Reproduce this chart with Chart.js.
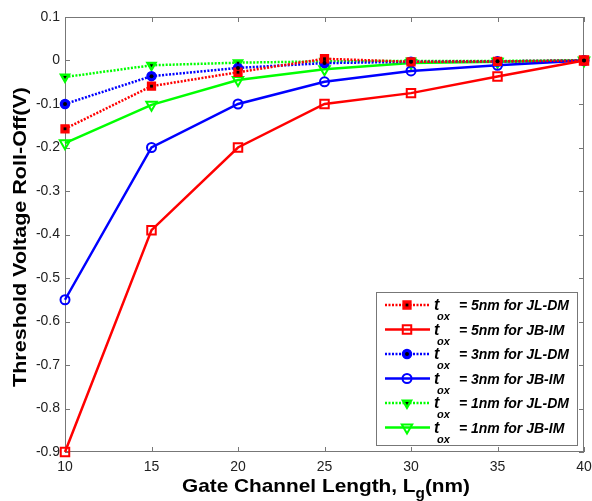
<!DOCTYPE html>
<html lang="en">
  <head>
    <meta charset="UTF-8" />
    <title>Threshold Voltage Roll-Off</title>
    <script src="https://cdn.jsdelivr.net/npm/chart.js"></script>
    <style>
      html, body { margin: 0; padding: 0; background: #fff; }
      #wrap { width: 592px; height: 501px; }
    </style>
  </head>
  <body>
    <div id="wrap"><canvas id="rolloff" width="592" height="501"></canvas></div>
    <script>
      // Gate channel length (nm)
      const gateLength = [10, 15, 20, 25, 30, 35, 40]

      // threshold voltage roll-off (V)
      const jlDm5 = [-0.157, -0.059, -0.027, 0.004, -0.003, -0.002, 0]
      const jbIm5 = [-0.9, -0.39, -0.2, -0.1, -0.075, -0.037, 0]
      const jlDm3 = [-0.1, -0.036, -0.017, -0.006, -0.003, -0.002, 0]
      const jbIm3 = [-0.55, -0.2, -0.1, -0.049, -0.024, -0.011, 0]
      const jlDm1 = [-0.038, -0.011, -0.005, -0.002, -0.001, -0.001, 0]
      const jbIm1 = [-0.19, -0.102, -0.045, -0.02, -0.006, -0.003, 0]

      const xTicks = [10, 15, 20, 25, 30, 35, 40]
      const yTicks = [0.1, 0, -0.1, -0.2, -0.3, -0.4, -0.5, -0.6, -0.7, -0.8, -0.9]

      const legendText = [
        " = 5nm for JL-DM",
        " = 5nm for JB-IM",
        " = 3nm for JL-DM",
        " = 3nm for JB-IM",
        " = 1nm for JL-DM",
        " = 1nm for JB-IM",
      ]

      const FONT = "Arial, 'Liberation Sans', Helvetica, sans-serif"
      const RED = "#ff0000"
      const BLUE = "#0000ff"
      const GREEN = "#00ff00"

      function toXY(vals) {
        return vals.map((v, i) => ({ x: gateLength[i], y: v }))
      }

      function series(label, vals, color, style, dotted) {
        const open = !dotted
        let radius
        if (style === "rect") radius = dotted ? 5.5 : 6
        else if (style === "circle") radius = 4.5
        else radius = dotted ? 5.5 : 6
        return {
          label: label,
          data: toXY(vals),
          borderColor: color,
          backgroundColor: open ? "rgba(0,0,0,0)" : color,
          borderWidth: 2.5,
          borderDash: dotted ? [2, 1.5] : [],
          pointStyle: style,
          pointRotation: style === "triangle" ? 180 : 0,
          pointRadius: radius,
          pointBorderWidth: open ? 2 : 1.5,
          pointBorderColor: color,
          pointBackgroundColor: open ? "rgba(0,0,0,0)" : color,
          tension: 0,
          clip: false,
          dotted: dotted,
        }
      }

      const datasets = [
        series("5nm JL-DM", jlDm5, RED, "rect", true),
        series("5nm JB-IM", jbIm5, RED, "rect", false),
        series("3nm JL-DM", jlDm3, BLUE, "circle", true),
        series("3nm JB-IM", jbIm3, BLUE, "circle", false),
        series("1nm JL-DM", jlDm1, GREEN, "triangle", true),
        series("1nm JB-IM", jbIm1, GREEN, "triangle", false),
      ]

      function blackCenter(ctx, ds, x, y) {
        Chart.helpers.drawPoint(
          ctx,
          { pointStyle: ds.pointStyle, rotation: ds.pointRotation, radius: 2, borderWidth: 0 },
          x,
          y
        )
      }

      // draws text pieces [text, size, dy] stretched to a given width, centred at (cx, base)
      function stretchedText(ctx, pieces, cx, base, width) {
        let total = 0
        pieces.forEach((p) => {
          ctx.font = "bold " + p[1] + "px " + FONT
          p.w = ctx.measureText(p[0]).width
          total += p.w
        })
        const k = width / total
        ctx.save()
        ctx.translate(cx - width / 2, base)
        ctx.scale(k, 1)
        let x = 0
        pieces.forEach((p) => {
          ctx.font = "bold " + p[1] + "px " + FONT
          ctx.fillText(p[0], x, p[2])
          x += p.w
        })
        ctx.restore()
      }

      // frame, inward ticks, axis titles, legend
      const decor = {
        id: "decor",
        beforeDatasetsDraw(chart) {
          const { ctx, chartArea: a, scales } = chart
          ctx.save()
          ctx.strokeStyle = "#777"
          ctx.lineWidth = 1
          ctx.strokeRect(Math.round(a.left) + 0.5, Math.round(a.top) + 0.5, a.right - a.left - 1, a.bottom - a.top - 1)
          ctx.beginPath()
          xTicks.forEach((v) => {
            const px = Math.round(scales.x.getPixelForValue(v)) + 0.5
            ctx.moveTo(px, a.bottom)
            ctx.lineTo(px, a.bottom - 5)
            ctx.moveTo(px, a.top)
            ctx.lineTo(px, a.top + 5)
          })
          yTicks.forEach((v) => {
            const py = Math.round(scales.y.getPixelForValue(v)) + 0.5
            ctx.moveTo(a.left, py)
            ctx.lineTo(a.left + 5, py)
            ctx.moveTo(a.right, py)
            ctx.lineTo(a.right - 5, py)
          })
          ctx.stroke()
          ctx.restore()
        },
        afterDatasetsDraw(chart) {
          const ctx = chart.ctx
          ctx.save()
          ctx.fillStyle = "#000"
          chart.data.datasets.forEach((ds, i) => {
            if (!ds.dotted) return
            chart.getDatasetMeta(i).data.forEach((pt) => blackCenter(ctx, ds, pt.x, pt.y))
          })
          ctx.restore()
        },
        afterDraw(chart) {
          const ctx = chart.ctx
          ctx.save()
          ctx.fillStyle = "#000"
          ctx.textBaseline = "alphabetic"

          // x axis title with subscript g
          stretchedText(
            ctx,
            [["Gate Channel Length, L", 19, 0], ["g", 14, 6], ["(nm)", 19, 0]],
            326,
            492,
            288
          )

          // y axis title
          ctx.save()
          ctx.translate(26, 237)
          ctx.rotate(-Math.PI / 2)
          stretchedText(ctx, [["Threshold Voltage Roll-Off(V)", 19, 0]], 0, 0, 300)
          ctx.restore()

          // legend
          const lx = 376, ly = 292, lw = 201, lh = 153
          ctx.fillStyle = "#fff"
          ctx.fillRect(lx, ly, lw, lh)
          ctx.strokeStyle = "#777"
          ctx.lineWidth = 1
          ctx.strokeRect(lx + 0.5, ly + 0.5, lw, lh)
          chart.data.datasets.forEach((ds, i) => {
            const cy = 305 + i * 24.5
            ctx.strokeStyle = ds.borderColor
            ctx.lineWidth = ds.borderWidth
            ctx.setLineDash(ds.borderDash)
            ctx.beginPath()
            ctx.moveTo(385, cy)
            ctx.lineTo(430, cy)
            ctx.stroke()
            ctx.setLineDash([])
            ctx.fillStyle = ds.pointBackgroundColor
            ctx.strokeStyle = ds.pointBorderColor
            ctx.lineWidth = ds.pointBorderWidth
            Chart.helpers.drawPoint(
              ctx,
              { pointStyle: ds.pointStyle, rotation: ds.pointRotation, radius: ds.pointRadius, borderWidth: ds.pointBorderWidth },
              407,
              cy
            )
            if (ds.dotted) {
              ctx.fillStyle = "#000"
              blackCenter(ctx, ds, 407, cy)
            }
            ctx.fillStyle = "#000"
            ctx.font = "italic bold 16px " + FONT
            ctx.fillText("t", 434, cy + 5)
            ctx.font = "italic bold 11px " + FONT
            ctx.fillText("ox", 437, cy + 15)
            ctx.font = "italic bold 14px " + FONT
            ctx.fillText(legendText[i], 455, cy + 5)
          })
          ctx.restore()
        },
      }

      new Chart(document.getElementById("rolloff"), {
        type: "line",
        data: { datasets: datasets },
        plugins: [decor],
        options: {
          responsive: false,
          animation: false,
          devicePixelRatio: 1,
          layout: { padding: { top: 17, right: 7, left: 0, bottom: 0 } },
          plugins: { legend: { display: false }, tooltip: { enabled: false } },
          scales: {
            x: {
              type: "linear",
              min: 10,
              max: 40,
              grid: { display: false, drawTicks: false },
              border: { display: false },
              afterBuildTicks: (s) => { s.ticks = xTicks.map((v) => ({ value: v })) },
              afterFit: (s) => {
                s.height = 49
                s.paddingLeft = 0
                s.paddingRight = 0
              },
              ticks: {
                color: "#222",
                padding: 7,
                maxRotation: 0,
                font: { family: FONT, size: 14 },
                callback: (v) => String(v),
              },
            },
            y: {
              type: "linear",
              min: -0.9,
              max: 0.1,
              grid: { display: false, drawTicks: false },
              border: { display: false },
              afterBuildTicks: (s) => { s.ticks = yTicks.map((v) => ({ value: v })) },
              afterFit: (s) => {
                s.width = 65
                s.paddingTop = 0
                s.paddingBottom = 0
              },
              ticks: {
                color: "#222",
                padding: 5,
                font: { family: FONT, size: 14 },
                callback: (v) => String(Math.round(v * 10) / 10),
              },
            },
          },
        },
      })
    </script>
  </body>
</html>
